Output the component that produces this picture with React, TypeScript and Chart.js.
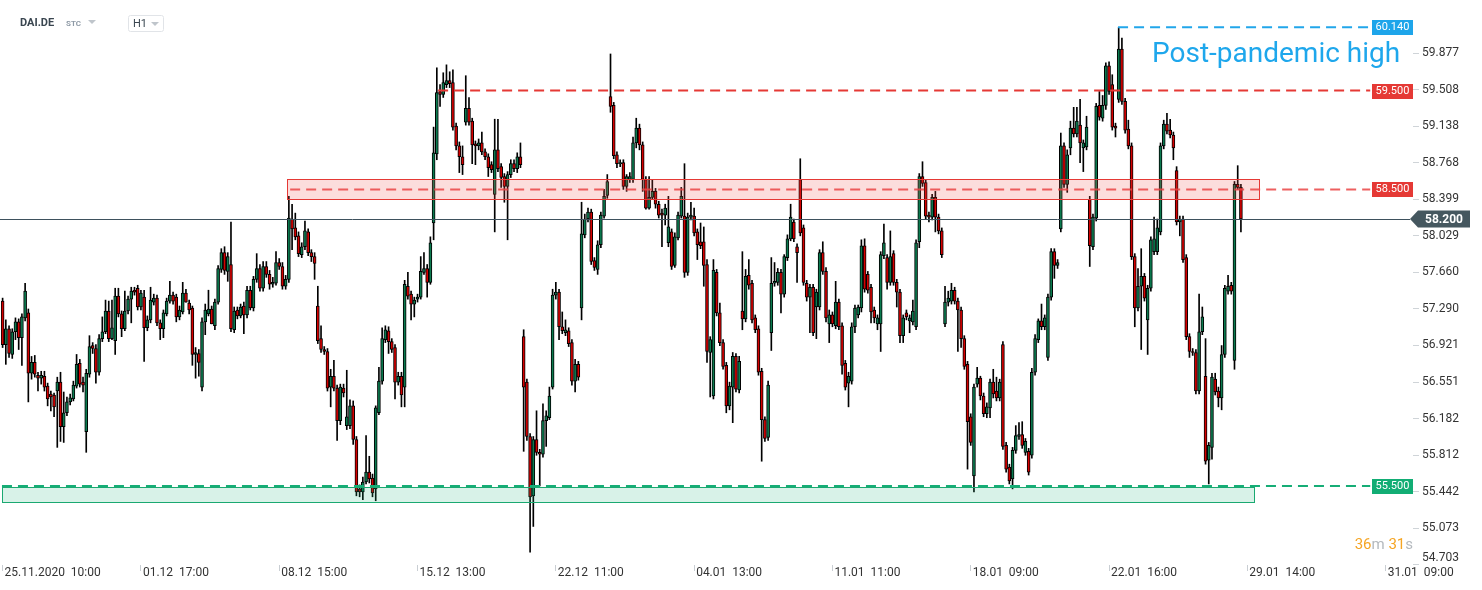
import React, { useEffect, useRef } from 'react';
import Chart from 'chart.js/auto';

// ---------- DATA ----------
const opens = [57.37,56.93,57.09,56.83,57.06,57.16,57.00,57.20,57.25,56.64,56.75,56.62,56.59,56.61,56.51,56.43,56.42,56.46,56.55,56.10,56.24,56.35,56.38,56.51,56.74,56.55,56.05,56.63,56.92,56.89,56.65,56.99,57.06,57.27,56.99,56.97,57.42,57.24,57.09,57.27,57.39,57.48,57.50,57.31,57.41,57.10,57.18,57.36,57.40,57.15,57.09,57.24,57.37,57.43,57.41,57.21,57.26,57.45,57.35,57.30,56.83,56.84,56.50,57.16,57.24,57.29,57.12,57.36,57.69,57.86,57.67,57.74,57.08,57.28,57.22,57.32,57.23,57.48,57.30,57.59,57.70,57.50,57.72,57.64,57.54,57.55,57.76,57.72,57.52,57.59,
58.20,58.11,58.03,57.84,57.92,58.07,57.86,57.82,57.32,56.99,56.88,56.86,56.50,56.61,56.49,56.16,56.49,56.11,56.11,56.31,55.97,55.47,55.44,55.54,55.64,55.58,55.47,56.24,56.56,56.98,57.07,56.96,56.90,56.55,56.61,56.50,57.52,57.44,57.34,57.39,57.41,57.66,57.70,57.56,58.16,
58.86,59.49,59.46,59.56,59.60,59.58,59.14,58.94,58.83,59.18,59.32,59.19,58.96,58.94,58.97,58.88,58.83,58.75,58.45,58.90,58.73,58.63,58.53,58.65,58.76,58.71,58.83,
57.01,56.55,56.00,55.40,55.97,55.84,55.82,56.16,56.19,56.50,57.43,57.46,57.11,57.05,57.07,56.95,56.56,56.73,
57.30,58.04,58.20,58.27,57.78,57.69,57.94,58.23,58.44,
59.44,59.35,58.85,58.76,58.77,58.53,58.60,58.60,58.97,59.12,58.95,58.60,58.31,58.42,58.48,58.35,58.26,58.24,57.96,58.07,57.73,58.01,58.23,58.23,57.66,58.22,58.23,58.07,57.97,57.97,57.74,56.85,56.41,57.66,57.25,56.95,56.72,56.31,56.50,56.81,56.47,
57.27,57.19,57.63,57.55,57.20,57.09,56.66,56.17,55.99,
57.05,57.55,57.56,57.66,57.44,57.81,58.00,58.17,57.92,58.60,58.11,57.55,57.41,57.51,57.31,57.31,57.86,57.67,57.14,57.23,57.12,57.36,57.12,56.74,56.54,56.56,57.11,57.23,57.30,57.93,57.64,57.51,57.28,57.14,57.14,57.83,57.81,57.56,57.85,57.56,57.46,57.02,57.25,57.17,57.16,57.11,57.97,58.63,58.57,58.24,58.22,58.42,58.22,58.08,
57.14,57.36,57.37,57.48,57.37,57.28,56.99,56.73,56.20,55.60,56.53,56.59,56.41,56.23,56.29,56.55,56.46,56.39,56.93,55.91,55.69,55.57,55.86,56.00,56.02,55.84,55.85,55.81,56.65,56.98,57.17,57.11,56.80,57.41,57.87,57.73,58.10,58.94,58.55,58.92,59.12,59.06,59.15,58.92,58.93,58.40,57.92,58.21,59.35,59.22,59.35,59.75,59.56,59.14,59.41,59.92,59.39,59.11,58.94,57.82,57.30,57.52,57.62,57.18,57.50,57.87,57.87,58.07,58.94,59.16,59.10,59.05,58.69,58.17,58.20,57.81,57.01,56.86,56.85,56.46,57.06,56.61,55.76,55.89,56.58,56.46,56.39,56.83,57.47,57.53,56.77,58.55,58.52];

const highs = [57.40,57.18,57.12,57.09,57.20,57.19,57.24,57.55,57.29,56.81,56.82,56.65,56.66,56.66,56.54,56.46,56.44,56.60,56.65,56.45,56.40,56.43,56.56,56.83,56.78,56.60,56.68,57.02,56.95,56.93,57.03,57.21,57.38,57.37,57.38,57.50,57.50,57.27,57.47,57.42,57.51,57.51,57.53,57.48,57.48,57.22,57.51,57.44,57.43,57.18,57.28,57.40,57.57,57.46,57.44,57.32,57.56,57.49,57.38,57.32,56.90,56.88,57.20,57.34,57.48,57.32,57.39,57.73,57.90,57.92,57.86,58.17,57.31,57.31,57.34,57.36,57.52,57.52,57.62,57.85,57.74,57.77,57.77,57.68,57.61,57.87,57.80,57.76,57.63,58.43,
58.35,58.26,58.07,57.96,58.18,58.10,57.89,57.86,57.52,57.12,56.91,56.89,56.68,56.77,56.52,56.53,56.53,56.67,56.37,56.36,56.00,55.51,55.59,56.01,55.80,55.62,56.31,56.70,57.10,57.12,57.11,56.99,56.93,56.65,56.65,57.58,57.66,57.47,57.41,57.44,57.82,57.86,57.74,58.02,59.13,
59.73,59.56,59.68,59.76,59.69,59.71,59.17,58.98,58.94,59.65,59.43,59.22,58.99,59.01,59.08,58.91,58.86,58.78,59.21,59.21,58.76,58.66,58.68,58.80,58.80,58.87,58.97,
57.08,56.58,56.03,56.00,56.26,55.87,56.33,56.26,56.50,57.49,57.56,57.49,57.26,57.18,57.10,56.98,56.78,56.76,
58.37,58.25,58.31,58.30,57.81,57.98,58.27,58.50,58.65,
59.87,59.38,58.88,58.80,58.80,58.65,58.67,59.03,59.22,59.16,58.98,58.63,58.63,58.60,58.51,58.38,58.30,58.35,58.43,58.10,58.06,58.27,58.52,58.76,58.26,58.37,58.31,58.10,58.16,58.12,57.79,57.01,57.79,57.69,57.35,56.98,56.75,56.55,56.85,56.84,56.81,
57.87,57.69,57.79,57.58,57.23,57.12,56.69,56.20,56.56,
57.81,57.76,57.70,57.69,57.84,58.04,58.35,58.20,57.95,58.81,58.14,57.58,57.54,57.54,57.49,57.89,57.97,57.71,57.28,57.26,57.57,57.39,57.15,56.77,56.65,57.15,57.33,57.33,57.99,58.00,57.67,57.54,57.31,57.23,57.87,58.15,57.84,58.08,57.88,57.59,57.49,57.23,57.28,57.23,57.38,57.99,58.66,58.78,58.60,58.27,58.45,58.48,58.25,58.11,
57.52,57.47,57.55,57.51,57.40,57.31,57.02,56.76,56.23,56.53,56.70,56.61,56.44,56.34,56.58,56.68,56.60,56.58,56.96,55.94,55.72,55.89,56.11,56.14,56.15,55.98,55.88,56.69,57.03,57.19,57.34,57.23,57.44,57.90,57.90,57.79,59.07,58.97,58.90,59.19,59.33,59.33,59.41,59.00,59.24,58.43,58.25,59.37,59.49,59.45,59.78,59.79,59.66,59.17,60.14,60.03,59.42,59.20,58.97,57.85,57.70,57.90,57.65,57.53,58.02,58.22,58.20,58.97,59.20,59.27,59.21,59.08,58.73,58.23,58.23,57.84,57.04,56.89,56.88,57.44,57.31,56.99,55.94,56.64,56.64,56.50,56.92,57.53,57.63,57.56,58.58,58.74,58.55];

const lows = [56.90,56.73,56.80,56.79,56.98,56.88,56.72,57.17,56.35,56.58,56.60,56.46,56.53,56.46,56.31,56.26,56.20,55.89,55.95,55.94,56.21,56.32,56.36,56.49,56.50,56.45,55.84,56.60,56.84,56.54,56.62,56.96,57.04,56.96,56.98,56.83,57.21,57.01,57.07,57.24,57.15,57.43,57.28,57.28,56.76,57.07,57.15,57.33,57.12,56.98,57.00,57.22,57.35,57.34,57.16,57.18,57.24,57.36,57.24,56.72,56.59,56.61,56.46,57.03,57.22,57.14,57.08,57.34,57.66,57.64,57.57,57.06,57.05,57.19,57.20,57.04,57.20,57.28,57.27,57.56,57.47,57.47,57.61,57.49,57.51,57.53,57.69,57.49,57.49,57.56,
57.89,57.99,57.82,57.81,57.89,57.83,57.77,57.59,56.94,56.85,56.83,56.46,56.30,56.46,55.96,56.12,56.40,56.07,56.08,55.92,55.40,55.39,55.36,55.52,55.53,55.39,55.35,56.22,56.53,56.95,56.84,56.85,56.38,56.52,56.30,56.30,57.39,57.18,57.21,57.36,57.39,57.64,57.41,57.54,57.99,
58.80,59.34,59.43,59.53,59.53,59.10,58.90,58.67,58.65,59.15,59.15,58.76,58.75,58.90,58.85,58.80,58.63,58.67,58.07,58.68,58.52,58.37,57.99,58.62,58.68,58.67,58.72,
55.85,55.96,54.83,55.09,55.81,55.50,55.79,55.90,56.17,56.48,57.39,56.98,57.04,57.02,56.91,56.52,56.45,56.57,
57.18,58.01,58.17,57.74,57.68,57.64,57.91,58.21,58.41,
59.28,58.81,58.72,58.73,58.50,58.48,58.57,58.57,58.92,58.90,58.48,58.30,58.30,58.40,58.31,58.21,57.92,58.14,57.92,57.69,57.71,57.99,58.21,57.61,57.63,58.19,58.03,57.79,57.90,57.52,56.75,56.40,56.38,57.22,56.92,56.68,56.24,56.27,56.14,56.45,56.44,
57.08,57.16,57.49,57.15,57.05,56.62,55.75,55.95,55.96,
56.87,57.52,57.53,57.25,57.41,57.78,57.98,57.97,57.56,58.03,57.53,57.37,57.05,57.02,56.99,57.28,57.64,57.16,56.95,57.11,57.09,57.08,56.63,56.47,56.30,56.53,57.05,57.20,57.26,57.46,57.45,57.15,57.15,57.08,56.86,57.80,57.49,57.53,57.53,57.31,56.95,56.95,57.18,57.05,57.13,57.08,57.91,58.53,58.20,58.17,58.19,58.07,58.05,57.81,
57.11,57.32,57.34,57.34,56.86,56.90,56.68,55.67,55.91,55.44,56.50,56.37,56.20,56.19,56.19,56.39,56.36,56.36,55.87,55.64,55.52,55.47,55.83,55.97,55.88,55.81,55.61,55.78,56.62,56.95,57.08,57.08,56.77,57.38,57.60,57.70,58.07,58.52,58.47,58.85,59.03,59.03,58.77,58.68,58.90,57.72,57.89,58.18,59.20,59.19,59.31,59.46,59.10,59.03,59.38,59.36,59.07,58.91,57.79,57.11,57.27,56.88,57.37,56.83,57.47,57.84,57.84,58.04,58.91,59.06,59.02,58.80,58.14,58.03,57.76,56.98,56.80,56.82,56.43,56.43,57.03,55.72,55.52,55.77,56.42,56.30,56.27,56.80,57.44,57.44,56.68,58.50,58.07];

const closes = [56.93,57.09,56.84,57.06,57.16,57.00,57.21,57.47,56.64,56.75,56.63,56.59,56.62,56.50,56.38,56.40,56.30,56.55,56.10,56.24,56.35,56.39,56.52,56.73,56.53,56.52,56.64,56.91,56.89,56.65,56.99,57.06,57.27,56.99,57.10,57.42,57.24,57.09,57.27,57.39,57.47,57.46,57.31,57.45,57.10,57.18,57.38,57.40,57.15,57.09,57.25,57.37,57.43,57.37,57.21,57.28,57.45,57.36,57.28,56.83,56.85,56.75,57.16,57.28,57.29,57.14,57.36,57.70,57.86,57.68,57.82,57.09,57.27,57.22,57.31,57.23,57.48,57.30,57.59,57.70,57.50,57.72,57.64,57.54,57.56,57.76,57.72,57.52,57.59,58.21,
58.10,58.02,57.85,57.92,58.08,57.86,57.82,57.75,56.97,56.88,56.86,56.49,56.61,56.49,56.16,56.50,56.44,56.20,56.31,55.97,55.44,55.44,55.54,55.64,55.57,55.43,56.29,56.56,56.99,57.08,56.96,56.88,56.55,56.61,56.42,57.54,57.42,57.34,57.38,57.41,57.67,57.70,57.56,57.96,58.87,
59.48,59.46,59.58,59.60,59.57,59.13,58.94,58.83,58.75,59.32,59.18,58.95,58.94,58.97,58.88,58.83,58.72,58.70,58.90,58.71,58.62,58.53,58.65,58.76,58.71,58.83,58.75,
56.50,56.00,55.39,55.97,55.84,55.82,56.16,56.21,56.41,57.43,57.46,57.11,57.07,57.08,56.94,56.56,56.73,56.60,
58.05,58.20,58.27,57.77,57.71,57.94,58.24,58.43,58.58,
59.34,58.84,58.76,58.77,58.53,58.63,58.63,58.97,59.12,58.95,58.60,58.31,58.42,58.48,58.35,58.24,58.24,58.31,58.12,57.72,58.02,58.24,58.43,57.66,58.22,58.24,58.06,57.94,57.93,57.73,56.86,56.98,57.68,57.25,56.95,56.71,56.31,56.51,56.81,56.48,56.76,
57.19,57.62,57.53,57.18,57.08,56.65,56.17,55.98,56.52,
57.55,57.57,57.66,57.44,57.82,58.00,58.22,58.00,57.86,58.06,57.56,57.41,57.51,57.05,57.46,57.86,57.67,57.20,57.23,57.14,57.36,57.11,56.72,56.50,56.61,57.11,57.30,57.31,57.93,57.49,57.48,57.26,57.20,57.20,57.84,57.96,57.56,57.82,57.56,57.46,57.02,57.20,57.21,57.20,57.27,57.96,58.63,58.56,58.23,58.22,58.42,58.22,58.08,57.84,
57.36,57.40,57.48,57.37,57.28,56.99,56.71,56.15,55.94,56.50,56.59,56.41,56.23,56.30,56.55,56.43,56.39,56.55,55.90,55.67,55.55,55.86,56.01,56.02,55.91,55.95,55.64,56.65,56.99,57.17,57.11,57.20,57.41,57.87,57.73,57.76,58.94,58.55,58.85,59.12,59.06,59.19,58.97,58.97,59.13,57.93,58.22,59.34,59.23,59.35,59.75,59.49,59.13,59.12,59.92,59.39,59.10,58.94,57.82,57.30,57.52,57.62,57.40,57.50,57.99,58.00,58.11,58.94,59.16,59.09,59.05,58.92,58.17,58.20,57.79,57.01,56.86,56.85,56.46,57.06,57.21,55.75,55.91,56.60,56.45,56.39,56.83,57.50,57.52,57.47,58.55,58.52,58.20];

const slotCount = 439;
const xTickIndex = [0, 43, 86, 129, 172, 215, 258, 301, 344, 387, 430];
const xTickText = ['25.11.2020  10:00', '01.12  17:00', '08.12  15:00', '15.12  13:00', '22.12  11:00', '04.01  13:00', '11.01  11:00', '18.01  09:00', '22.01  16:00', '29.01  14:00', '31.01  09:00'];
const yTickValues = [54.703, 55.073, 55.442, 55.812, 56.182, 56.551, 56.921, 57.290, 57.660, 58.029, 58.399, 58.768, 59.138, 59.508, 59.877];

// levels: value, start index
const levelValues = [60.14, 59.5, 58.5, 55.5];
const levelStartIdx = [346.8, 135.4, 89.4, -0.2];
const levelEndIdx = 425.2;
const redZone = { low: 58.405, high: 58.605, from: 88.4, to: 390.5 };
const greenZone = { low: 55.336, high: 55.487, from: -0.2, to: 389.2 };
const lastPrice = 58.2;
const noteText = 'Post-pandemic high';

const FONT = "Roboto, 'Noto Sans', sans-serif";

export default function App() {
  const ref = useRef<HTMLCanvasElement>(null);
  useEffect(() => {
    document.body.style.margin = '0';
    const labels = Array.from({ length: slotCount }, (_, i) => String(i));
    const tickMap: Record<number, string> = {};
    xTickIndex.forEach((ix, k) => { tickMap[ix] = xTickText[k]; });
    const bodyColors = opens.map((o, i) => (closes[i] >= o ? '#0b7a4f' : '#d40000'));
    const yMinTick = Math.min(...yTickValues);

    const levelColors = ['#22a6ea', '#e53935', '#ea4444', '#16ad76'];

    const overlay = {
      id: 'overlay',
      afterDatasetsDraw(chart: any) {
        const ctx = chart.ctx as CanvasRenderingContext2D;
        const xs = chart.scales.x, ys = chart.scales.y;
        const ca = chart.chartArea;
        const px = (i: number) => xs.getPixelForValue(i);
        const py = (v: number) => ys.getPixelForValue(v);
        ctx.save();
        // price line
        ctx.strokeStyle = '#3e515d';
        ctx.lineWidth = 1;
        const yl = Math.round(py(lastPrice)) + 0.5;
        ctx.beginPath(); ctx.moveTo(0, yl); ctx.lineTo(ca.right - 3, yl); ctx.stroke();
        // zones
        const zone = (z: any, fill: string, stroke: string) => {
          const x1 = Math.round(px(z.from)) + 0.5, x2 = Math.round(px(z.to)) + 0.5;
          const y1 = Math.round(py(z.high)) + 0.5, y2 = Math.round(py(z.low)) + 0.5;
          ctx.fillStyle = fill; ctx.fillRect(x1, y1, x2 - x1, y2 - y1);
          ctx.strokeStyle = stroke; ctx.lineWidth = 1; ctx.strokeRect(x1, y1, x2 - x1, y2 - y1);
        };
        zone(redZone, 'rgba(239,83,80,0.2)', '#e53935');
        zone(greenZone, 'rgba(22,176,120,0.17)', '#1aa971');
        // dashed levels
        ctx.setLineDash([10, 6]);
        ctx.lineWidth = 2;
        levelValues.forEach((v, k) => {
          const y = py(v);
          ctx.strokeStyle = levelColors[k];
          ctx.globalAlpha = k === 2 ? 0.85 : 1;
          ctx.beginPath(); ctx.moveTo(px(levelStartIdx[k]), y); ctx.lineTo(px(levelEndIdx), y); ctx.stroke();
        });
        ctx.globalAlpha = 1;
        ctx.setLineDash([]);
        // level tags
        ctx.font = `11px ${FONT}`;
        ctx.textAlign = 'center'; ctx.textBaseline = 'middle';
        levelValues.forEach((v, k) => {
          const y = Math.round(py(v));
          const c = k === 0 ? '#1ea5ea' : k === 3 ? '#12ad74' : '#e53935';
          ctx.fillStyle = c;
          ctx.fillRect(ca.right - 41, y - 7, 41, 15);
          ctx.fillStyle = '#ffffff';
          ctx.fillText(v.toFixed(3), ca.right - 20.5, y + 0.5);
        });
        // note text
        ctx.fillStyle = '#1ea7ec';
        ctx.font = `28px ${FONT}`;
        ctx.textAlign = 'left'; ctx.textBaseline = 'alphabetic';
        ctx.fillText(noteText, 1152, 62);
        // last price tag
        const yt = py(lastPrice);
        ctx.fillStyle = '#45575f';
        ctx.beginPath();
        ctx.moveTo(ca.right - 3, yt);
        ctx.lineTo(ca.right + 5, yt - 8.5);
        ctx.lineTo(ca.right + 57, yt - 8.5);
        ctx.lineTo(ca.right + 57, yt + 8.5);
        ctx.lineTo(ca.right + 5, yt + 8.5);
        ctx.closePath(); ctx.fill();
        ctx.fillStyle = '#ffffff';
        ctx.font = `bold 12px ${FONT}`;
        ctx.textAlign = 'center'; ctx.textBaseline = 'middle';
        ctx.fillText(lastPrice.toFixed(3), ca.right + 31, yt + 0.5);
        // countdown
        ctx.font = `15px ${FONT}`;
        ctx.textAlign = 'left'; ctx.textBaseline = 'middle';
        const parts: [string, string][] = [['36', '#f5a524'], ['m ', '#b4b9be'], ['31', '#f5a524'], ['s', '#b4b9be']];
        const total = parts.reduce((a, p) => a + ctx.measureText(p[0]).width, 0);
        let cx = ca.right - total;
        parts.forEach(([t, c]) => { ctx.fillStyle = c; ctx.fillText(t, cx, 545); cx += ctx.measureText(t).width; });
        // header
        ctx.fillStyle = '#3a4650';
        ctx.font = `bold 11px ${FONT}`;
        ctx.fillText('DAI.DE', 20, 23);
        ctx.fillStyle = '#8e9aa6';
        ctx.font = `bold 8px ${FONT}`;
        ctx.fillText('STC', 66, 24);
        const tri = (x: number, y: number) => {
          ctx.fillStyle = '#bfc5cb';
          ctx.beginPath(); ctx.moveTo(x, y); ctx.lineTo(x + 8, y); ctx.lineTo(x + 4, y + 4); ctx.closePath(); ctx.fill();
        };
        tri(88, 20);
        ctx.strokeStyle = '#e1e4e8'; ctx.lineWidth = 1;
        ctx.beginPath();
        (ctx as any).roundRect ? (ctx as any).roundRect(128.5, 15.5, 35, 16, 2) : ctx.rect(128.5, 15.5, 35, 16);
        ctx.stroke();
        ctx.fillStyle = '#3a4650';
        ctx.font = `11px ${FONT}`;
        ctx.fillText('H1', 133, 24);
        tri(151, 22);
        ctx.restore();
      },
    };

    const chart = new Chart(ref.current!, {
      type: 'bar',
      data: {
        labels,
        datasets: [
          {
            label: 'wick',
            data: lows.map((l, i) => [l, highs[i]]) as any,
            backgroundColor: '#000000',
            borderWidth: 0,
            barThickness: 1,
            grouped: false,
            order: 2,
          } as any,
          {
            label: 'body',
            data: opens.map((o, i) => [o, closes[i]]) as any,
            backgroundColor: bodyColors,
            borderColor: '#000000',
            borderWidth: 1,
            borderSkipped: false,
            barThickness: 3,
            minBarLength: 1,
            grouped: false,
            order: 1,
          } as any,
        ],
      },
      options: {
        responsive: false,
        animation: false,
        devicePixelRatio: 1,
        layout: { padding: { left: 1, right: 0, top: 0, bottom: 0 } },
        plugins: { legend: { display: false }, tooltip: { enabled: false } },
        scales: {
          x: {
            type: 'category',
            offset: true,
            border: { display: false },
            grid: {
              display: true,
              drawOnChartArea: false,
              drawTicks: true,
              tickLength: 6,
              offset: false,
              color: (c: any) => (tickMap[c.index] !== undefined ? '#c9ced3' : 'rgba(0,0,0,0)'),
            },
            ticks: {
              autoSkip: false,
              maxRotation: 0,
              minRotation: 0,
              align: 'start',
              labelOffset: 2,
              padding: -5,
              color: '#333333',
              font: { family: FONT, size: 12 },
              callback: (_v: any, i: number) => tickMap[i] ?? '',
            },
            afterFit: (s: any) => { s.height = 25; s.paddingLeft = 0; s.paddingRight = 0; },
          } as any,
          y: {
            position: 'right',
            min: 54.70,
            max: 60.416,
            border: { display: false },
            grid: { display: true, drawOnChartArea: false, tickLength: 6, color: '#cfd4d8' },
            ticks: {
              padding: 3,
              color: '#333333',
              font: { family: FONT, size: 12 },
              callback: (v: any) => {
                const s = Number(v).toFixed(3);
                return Number(v) === yMinTick ? [s, ''] : s;
              },
            },
            afterBuildTicks: (s: any) => { s.ticks = yTickValues.map((v) => ({ value: v })); },
            afterFit: (s: any) => { s.width = 69; s.paddingTop = 0; s.paddingBottom = 0; },
          } as any,
        },
      },
      plugins: [overlay],
    });
    return () => chart.destroy();
  }, []);
  return (
    <div style={{ width: 1482, height: 590, position: 'relative', background: '#ffffff' }}>
      <canvas ref={ref} width={1482} height={590} style={{ display: 'block' }} />
    </div>
  );
}
